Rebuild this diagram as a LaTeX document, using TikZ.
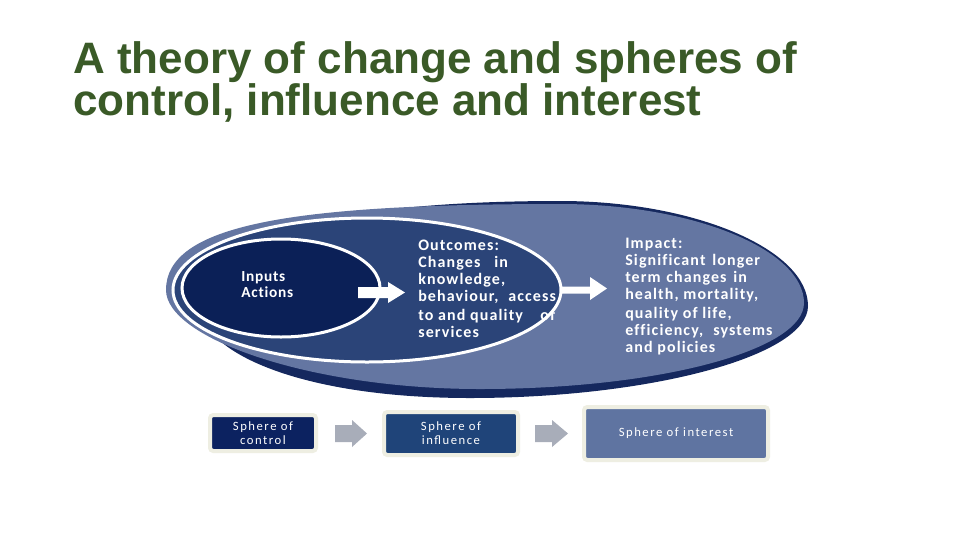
\documentclass[tikz,border=0pt]{standalone}
\usepackage{fontspec}
\setmainfont{Carlito}
\newfontfamily\titlefont{Liberation Sans}
\newfontfamily\ellfont[LetterSpace=7,Ligatures=NoCommon]{Carlito}
\newfontfamily\inpfont[LetterSpace=5,Ligatures=NoCommon]{Carlito}
\newfontfamily\boxfont[LetterSpace=12]{Carlito}
\usetikzlibrary{shapes.geometric}
\newlength\pxu \setlength\pxu{0.75pt}
\newcommand\wbox[2]{\makebox[#1\pxu][l]{#2}}
\definecolor{titlegreen}{HTML}{3A5A27}
\definecolor{navyedge}{HTML}{15285E}
\definecolor{slate}{HTML}{6476A2}
\definecolor{midblue}{HTML}{2B4478}
\definecolor{darkblue}{HTML}{0B2057}
\definecolor{boxa}{HTML}{0C2260}
\definecolor{boxb}{HTML}{1F4479}
\definecolor{boxc}{HTML}{5F74A1}
\definecolor{cream}{HTML}{EEEEE2}
\definecolor{grayarrow}{HTML}{A8ADB9}
\begin{document}
\begin{tikzpicture}[x=0.75pt,y=-0.75pt,
  titletext/.style={anchor=base west, inner sep=0, text=titlegreen,
    font=\titlefont\bfseries\fontsize{33}{39}\selectfont},
  ring/.style={ellipse, draw=white, line width=2.25pt, inner sep=0},
  etext/.style={anchor=base west, inner sep=0, text=white,
    font=\ellfont\bfseries\fontsize{12}{14}\selectfont},
  itext/.style={anchor=base west, inner sep=0, text=white,
    font=\inpfont\bfseries\fontsize{11.5}{13}\selectfont},
  spherebox/.style={draw=cream, line width=3pt, rounded corners=2.5pt,
    inner sep=0, text=white, align=center,
    font=\boxfont\fontsize{9.5}{10.5}\selectfont},
  blockwhite/.style={fill=white},
  blockgray/.style={fill=grayarrow}
]
\useasboundingbox (0,0) rectangle (960,540);
\fill[white] (0,0) rectangle (960,540);

% title
\node[titletext] (t1) at (73,73) {A theory of change and spheres of};
\node[titletext] (t2) at (73,115) {control, influence and interest};

% sphere of interest (outer egg)
\fill[navyedge] (200,305) .. controls (200,240) and (320,201) .. (560,201)
  .. controls (696,201) and (808,250) .. (808,306)
  .. controls (808,356) and (650,398) .. (470,398)
  .. controls (300,398) and (200,352) .. (200,305) -- cycle;
\fill[slate] (166,290) .. controls (166,225) and (290,204) .. (560,204)
  .. controls (694,204) and (804,250) .. (804,303)
  .. controls (804,350) and (660,389) .. (480,389)
  .. controls (310,389) and (166,338) .. (166,290) -- cycle;
\coordinate (interest) at (490,297);

% sphere of influence
\node[ring, fill=midblue, minimum width=291pt, minimum height=108pt] (influence) at (367,290) {};
% sphere of control
\node[ring, fill=darkblue, minimum width=148.5pt, minimum height=73.5pt] (control) at (281,288) {};

% white block arrows
\fill[blockwhite] (358,287) -- (388,287) -- (388,282) -- (405,292.5) -- (388,303) -- (388,298) -- (358,298) -- cycle;
\fill[blockwhite] (560,286.5) -- (590,286.5) -- (590,277) -- (607,288.5) -- (590,300) -- (590,293.5) -- (560,293.5) -- cycle;

% control text
\node[itext] (in1) at (241,281) {Inputs};
\node[itext] (in2) at (241,297) {Actions};

% influence text
\node[etext] (o1) at (418,250) {Outcomes:};
\node[etext] (o2) at (418,267) {\wbox{76}{Changes}in};
\node[etext] (o3) at (418,284) {knowledge,};
\node[etext] (o4) at (418,301) {\wbox{90}{behaviour,}access};
\node[etext] (o5) at (418,320) {\wbox{122}{to and quality}of};
\node[etext] (o6) at (418,337) {services};

% impact text
\node[etext] (p1) at (625,248) {Impact:};
\node[etext] (p2) at (625,265) {\wbox{87}{Significant}longer};
\node[etext] (p3) at (625,282) {\wbox{41}{term}\wbox{67}{changes}in};
\node[etext] (p4) at (625,299) {health, mortality,};
\node[etext] (p5) at (625,318) {quality of life,};
\node[etext] (p6) at (625,335) {\wbox{88}{efficiency,}systems};
\node[etext] (p7) at (625,352) {and policies};

% bottom boxes
\node[spherebox, fill=boxa, minimum width=79.5pt, minimum height=27pt] (bctrl) at (263,433) {Sphere of\\control};
\node[spherebox, fill=boxb, minimum width=100.5pt, minimum height=32.25pt] (binfl) at (451,433.5) {Sphere of\\influence};
\node[spherebox, fill=boxc, minimum width=138pt, minimum height=39.75pt] (bint) at (676,433.5) {Sphere of interest};

% gray block arrows
\fill[blockgray] (335,425) -- (352,425) -- (352,420) -- (367,433.5) -- (352,447) -- (352,442) -- (335,442) -- cycle;
\fill[blockgray] (535,425) -- (552,425) -- (552,420) -- (568,433.5) -- (552,447) -- (552,442) -- (535,442) -- cycle;
\end{tikzpicture}
\end{document}
